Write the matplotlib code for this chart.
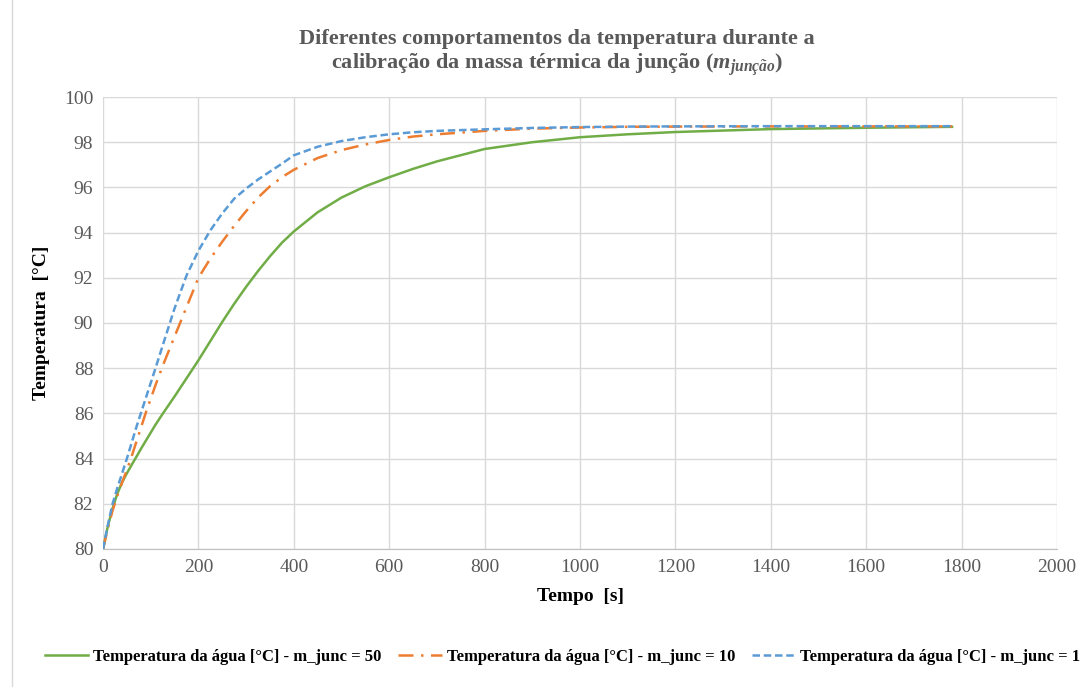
import matplotlib.pyplot as plt
from matplotlib.patches import Rectangle

plt.rcParams['font.family'] = ['Liberation Serif', 'DejaVu Serif']
plt.rcParams['mathtext.fontset'] = 'custom'
plt.rcParams['mathtext.it'] = 'Liberation Serif:italic:bold'
plt.rcParams['mathtext.rm'] = 'Liberation Serif:bold'

# temps [s]
tempo = [0, 10, 20, 30, 40, 50, 60, 70, 80, 90,
         100, 110, 125, 150, 175, 200, 225, 250, 275, 300,
         325, 350, 375, 400, 450, 500, 550, 600, 650, 700,
         800, 900, 1000, 1100, 1200, 1400, 1600, 1780]

# temperatura da agua [°C]
temp_m50 = [80, 81.0, 81.8, 82.45, 82.95, 83.35, 83.72, 84.08, 84.45, 84.8,
            85.15, 85.5, 85.98, 86.75, 87.55, 88.35, 89.2, 90.05, 90.85, 91.6,
            92.3, 92.95, 93.55, 94.05, 94.9, 95.55, 96.05, 96.45, 96.82, 97.15,
            97.7, 98.0, 98.22, 98.35, 98.45, 98.58, 98.64, 98.68]
temp_m10 = [80, 80.9, 81.7, 82.35, 82.95, 83.5, 84.1, 84.75, 85.4, 86.05,
            86.65, 87.25, 88.1, 89.4, 90.7, 92.0, 92.85, 93.6, 94.3, 94.95,
            95.55, 96.05, 96.45, 96.78, 97.3, 97.65, 97.9, 98.1, 98.25, 98.35,
            98.5, 98.6, 98.65, 98.68, 98.69, 98.7, 98.7, 98.7]
temp_m1 = [80, 81.05, 82.0, 82.7, 83.35, 84.0, 84.7, 85.4, 86.05, 86.7,
           87.35, 88.0, 89.0, 90.65, 92.1, 93.2, 94.1, 94.85, 95.5, 95.95,
           96.35, 96.7, 97.05, 97.42, 97.8, 98.05, 98.22, 98.35, 98.44, 98.5,
           98.57, 98.63, 98.67, 98.69, 98.7, 98.71, 98.71, 98.71]

labels = ['Temperatura da água [°C] - m_junc = 50',
          'Temperatura da água [°C] - m_junc = 10',
          'Temperatura da água [°C] - m_junc = 1']

cinza = '#595959'

fig = plt.figure(figsize=(10.88, 6.87), dpi=100)
ax = fig.add_axes([0.0947, 0.2009, 0.8768, 0.6579])

ax.plot(tempo, temp_m50, color='#70AD47', lw=1.8, ls='-', label=labels[0])
ax.plot(tempo, temp_m10, color='#ED7D31', lw=1.8, ls=(0, (6, 3, 1, 3)), label=labels[1])
ax.plot(tempo, temp_m1, color='#5B9BD5', lw=1.8, ls=(0, (3, 1.5)), label=labels[2])

ax.set_xlim(0, 2000)
ax.set_ylim(80, 100)
ax.set_xticks(range(0, 2001, 200))
ax.set_yticks(range(80, 101, 2))
ax.grid(True, color='#D9D9D9', lw=1)
ax.set_axisbelow(True)
for s in ['top', 'right', 'left']:
    ax.spines[s].set_visible(False)
ax.spines['bottom'].set_color('#BFBFBF')
ax.tick_params(length=0, labelsize=14, labelcolor=cinza, pad=7)

ax.set_xlabel('Tempo  [s]', fontsize=14, fontweight='bold', labelpad=9)
ax.set_ylabel('Temperatura  [°C]', fontsize=14, fontweight='bold', labelpad=10)

fig.text(0.512, 0.922, 'Diferentes comportamentos da temperatura durante a\n'
         'calibração da massa térmica da junção ($m_{junção}$)',
         ha='center', va='center', fontsize=16, fontweight='bold', color=cinza,
         linespacing=1.1)

fig.legend(loc='center', bbox_to_anchor=(0.517, 0.044), ncol=3, frameon=False,
           prop={'size': 12, 'weight': 'bold'}, handlelength=2.6,
           columnspacing=1.0, handletextpad=0.3)

fig.patches.append(Rectangle((0.011, -0.01), 1.0, 1.02, transform=fig.transFigure,
                             fill=False, ec='#D9D9D9', lw=1))

fig.savefig('out.png', dpi=100)
